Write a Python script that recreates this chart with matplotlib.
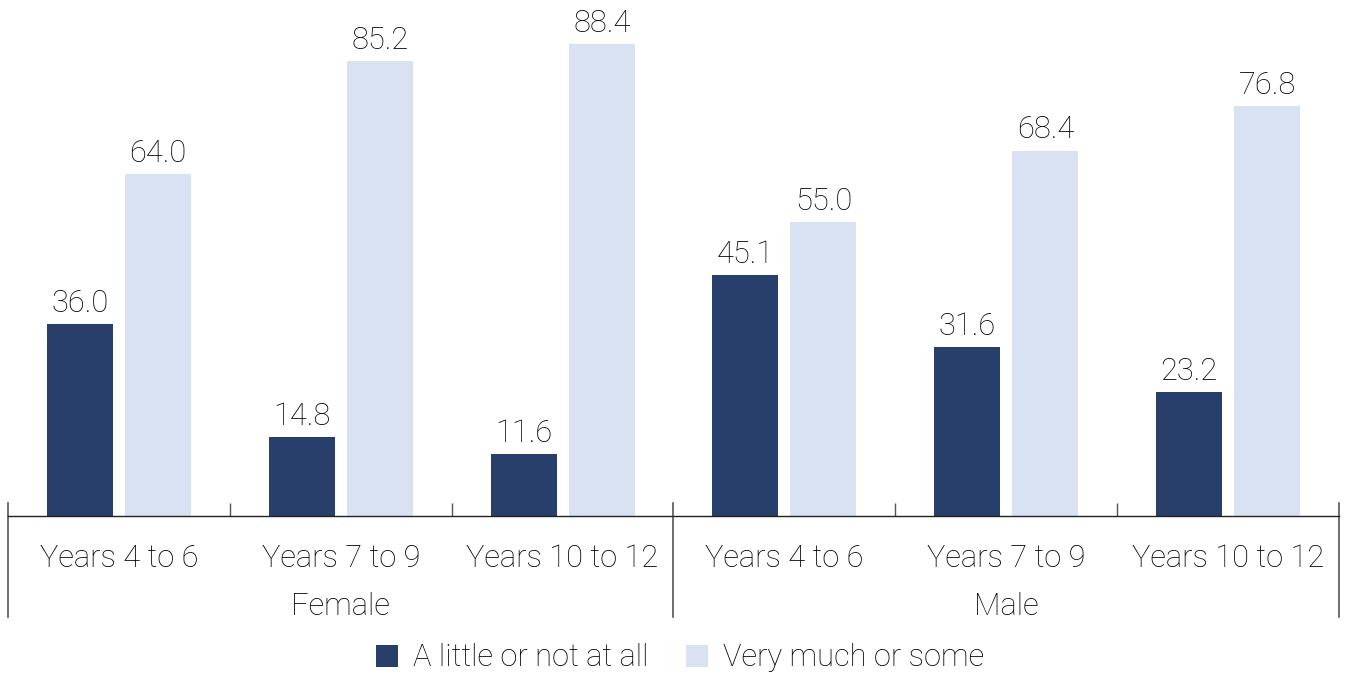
import numpy as np
import matplotlib.pyplot as plt
from matplotlib.lines import Line2D

categories = ["Years 4 to 6", "Years 7 to 9", "Years 10 to 12",
              "Years 4 to 6", "Years 7 to 9", "Years 10 to 12"]
groups = ["Female", "Male"]
little = [36.0, 14.8, 11.6, 45.1, 31.6, 23.2]
much = [64.0, 85.2, 88.4, 55.0, 68.4, 76.8]
series_names = ["A little or not at all", "Very much or some"]

dark = "#283e6b"
light = "#d9e2f3"
txt = "#000000"

plt.rcParams['font.family'] = ['Roboto', 'DejaVu Sans']
plt.rcParams['font.weight'] = 'light'
fs = 22.2

fig = plt.figure(figsize=(13.47, 6.75), dpi=100)
ax = fig.add_axes([8 / 1347, 159 / 675, 1331 / 1347, 96 * 5.34 / 675])

x = np.arange(len(categories))
w = 0.2976
off = 0.176
b1 = ax.bar(x - off, little, w, color=dark, label=series_names[0])
b2 = ax.bar(x + off, much, w, color=light, label=series_names[1])

for bars, vals in ((b1, little), (b2, much)):
    for r, v in zip(bars, vals):
        ax.annotate(f"{v:.1f}", (r.get_x() + r.get_width() / 2, v),
                    xytext=(0, 4.5), textcoords="offset points",
                    ha="center", va="bottom", fontsize=fs, color=txt)

ax.set_xlim(-0.5, 5.5)
ax.set_ylim(0, 96)
ax.set_yticks([])
for s in ["top", "right", "left"]:
    ax.spines[s].set_visible(False)
ax.spines["bottom"].set_linewidth(1.0)
ax.spines["bottom"].set_color("#222222")

ax.set_xticks(x)
ax.set_xticklabels(categories, fontsize=fs, color=txt)
ax.tick_params(axis="x", length=0, pad=20.5)

# small inner ticks at category boundaries
ax.set_xticks([0.5, 1.5, 3.5, 4.5], minor=True)
ax.tick_params(axis="x", which="minor", direction="in", length=9.5,
               width=1, color="#555555")

# long separators at group edges
trans = ax.get_xaxis_transform()
for xb in [-0.5, 2.5, 5.5]:
    ax.add_line(Line2D([xb, xb], [13 / 512.6, -101 / 512.6], transform=trans,
                       color="#555555", lw=1.2, clip_on=False))

ax.text(1.0, -90 / 512.6, groups[0], transform=trans, ha="center", va="center",
        fontsize=fs, color=txt)
ax.text(4.0, -90 / 512.6, groups[1], transform=trans, ha="center", va="center",
        fontsize=fs, color=txt)

fig.legend(handles=[b1, b2], labels=series_names, loc="center",
           bbox_to_anchor=(0.505, 1 - 658 / 675), ncol=2, frameon=False,
           fontsize=fs, handlelength=0.7, handleheight=0.7, columnspacing=1.2,
           handletextpad=0.5)

fig.savefig("out.png", dpi=100)
